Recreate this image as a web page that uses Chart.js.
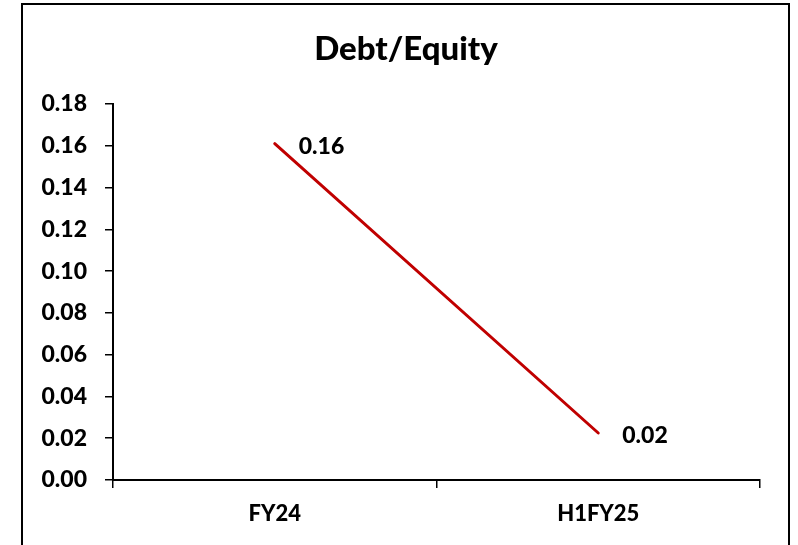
<!DOCTYPE html>
<html>
<head>
<meta charset="utf-8">
<script src="https://cdn.jsdelivr.net/npm/chart.js@4.4.1/dist/chart.umd.min.js"></script>
<style>
  html, body { margin: 0; padding: 0; background: #fff; overflow: hidden; }
  #wrap { position: relative; width: 798px; height: 545px; }
  #frame { position: absolute; left: 21px; top: 3px; width: 769px; height: 600px; border: 2px solid #000; box-sizing: border-box; }
  canvas { position: absolute; left: 0; top: 0; }
</style>
</head>
<body>
<div id="wrap">
  <div id="frame"></div>
  <canvas id="c" width="798" height="545"></canvas>
</div>
<script>
const categories = ['FY24', 'H1FY25'];
const debtEquity = [0.161, 0.0225];
const yTicksMin = 0;
const yTicksMax = 0.18;
const yTickStep = 0.02;
const chartTitle = 'Debt/Equity';

const FONT = 'Lato, "Open Sans", sans-serif';
const WEIGHT = '900';

const valueLabels = {
  id: 'valueLabels',
  afterDatasetsDraw(chart) {
    const ctx = chart.ctx;
    const meta = chart.getDatasetMeta(0);
    ctx.save();
    ctx.font = WEIGHT + ' 23px ' + FONT;
    ctx.fillStyle = '#000';
    ctx.textAlign = 'left';
    ctx.textBaseline = 'middle';
    meta.data.forEach((pt, i) => {
      const v = chart.data.datasets[0].data[i];
      ctx.fillText(v.toFixed(2), pt.x + 24, pt.y + 3);
    });
    ctx.restore();
  }
};

const titlePlugin = {
  id: 'customTitle',
  afterDraw(chart) {
    const ctx = chart.ctx;
    ctx.save();
    ctx.font = WEIGHT + ' 33px ' + FONT;
    ctx.fillStyle = '#000';
    ctx.textAlign = 'center';
    ctx.textBaseline = 'alphabetic';
    ctx.fillText(chartTitle, 406, 60);
    ctx.restore();
  }
};

new Chart(document.getElementById('c'), {
  type: 'line',
  data: {
    labels: categories,
    datasets: [{
      data: debtEquity,
      borderColor: '#C00000',
      borderWidth: 3,
      borderCapStyle: 'round',
      pointRadius: 0,
      tension: 0,
      fill: false
    }]
  },
  options: {
    responsive: false,
    animation: false,
    layout: { padding: { left: 0, right: 38, top: 104, bottom: 0 } },
    plugins: {
      legend: { display: false },
      tooltip: { enabled: false },
      title: { display: false }
    },
    scales: {
      x: {
        offset: true,
        grid: { offset: true, drawOnChartArea: false, drawTicks: true, tickLength: 8, color: '#000', lineWidth: 1.5 },
        border: { display: true, color: '#000', width: 2 },
        ticks: { color: '#000', font: { family: FONT, size: 22, weight: WEIGHT }, padding: 13, maxRotation: 0 },
        afterFit(scale) { scale.height = 65; }
      },
      y: {
        min: yTicksMin,
        max: yTicksMax,
        grid: { drawOnChartArea: false, drawTicks: true, tickLength: 8, color: '#000', lineWidth: 1.5 },
        border: { display: true, color: '#000', width: 2 },
        ticks: {
          stepSize: yTickStep,
          color: '#000',
          font: { family: FONT, size: 23, weight: WEIGHT },
          padding: 18,
          callback: (v) => Number(v).toFixed(2)
        },
        afterFit(scale) { scale.width = 113; }
      }
    }
  },
  plugins: [valueLabels, titlePlugin]
});
</script>
</body>
</html>
